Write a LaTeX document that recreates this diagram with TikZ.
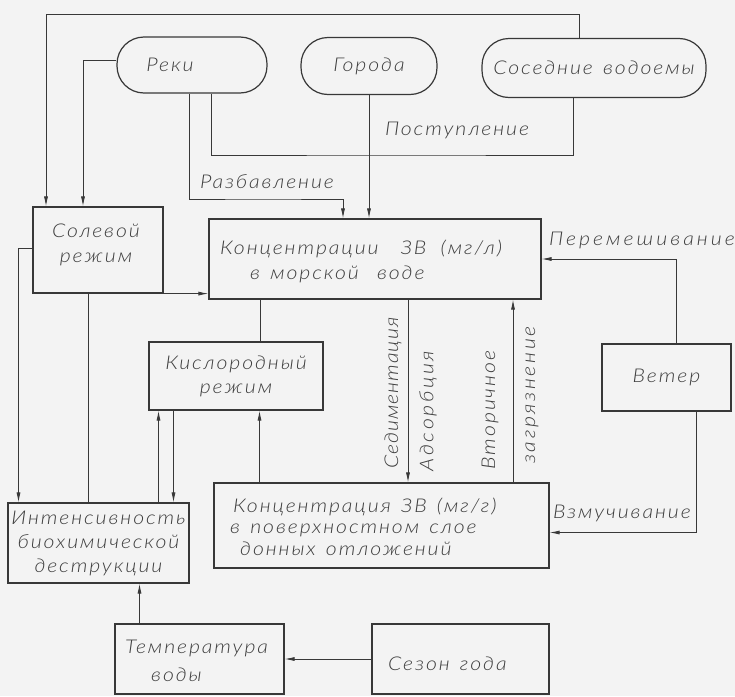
\documentclass[tikz,border=0pt]{standalone}
\usepackage{fontspec}
\setmainfont{Lato Light Italic}[LetterSpace=10,WordSpace=1.4,FakeStretch=1.12]
\usetikzlibrary{arrows.meta,calc}
\definecolor{ink}{HTML}{383838}
\definecolor{txt}{HTML}{3E3E3E}
\definecolor{paper}{HTML}{F3F3F3}
\begin{document}
\begin{tikzpicture}[x=1pt,y=-1pt,
  every node/.style={font=\fontsize{19}{25}\selectfont, text=txt},
  box/.style={draw=ink, line width=1.2pt, inner sep=0pt, align=center},
  pill/.style={box, rounded corners=27pt},
  con/.style={draw=ink, line width=0.8pt},
  arr/.style={con, -{Latex[length=10pt,width=4pt]}},
  lab/.style={inner sep=0pt},
  ltext/.style={inner sep=0pt, anchor=west, align=left}
]
\useasboundingbox (0,0) rectangle (735,696);
\fill[paper] (0,0) rectangle (735,696);

% nodes
\node[pill, minimum width=150pt, minimum height=56pt] (reki) at (192,65) {};
\node[lab] (rekiT) at (170,65) {Реки};
\node[pill, minimum width=136pt, minimum height=57pt] (goroda) at (369,66) {Города};
\node[pill, minimum width=224pt, minimum height=59pt] (sosed) at (594,68) {Соседние водоемы};
\node[box, minimum width=130pt, minimum height=86pt] (solev) at (98,250) {};
\node[lab, align=center] (solevT) at (96,245) {Солевой\\режим};
\node[box, minimum width=332pt, minimum height=80pt] (konc1) at (375,259) {};
\node[ltext] (konc1T) at (220,261) {Концентрации\hspace{12pt} ЗВ\hspace{4pt} (мг/л)\\\hspace*{30pt}в морской\hspace{8pt} воде};
\node[box, minimum width=174pt, minimum height=68pt, font=\fontsize{19}{24}\selectfont] (kisl) at (236,376) {Кислородный\\режим};
\node[box, minimum width=129pt, minimum height=67pt] (veter) at (666.5,377.5) {Ветер};
\node[box, minimum width=335pt, minimum height=85pt] (konc2) at (381.5,525.5) {};
\node[ltext, font=\fontsize{19}{21.5}\selectfont] (konc2T) at (230,526.5) {\hspace*{3pt}Концентрация ЗВ (мг/г)\\в поверхностном слое\\\hspace*{10pt}донных отложений};
\node[box, minimum width=181pt, minimum height=80pt, font=\fontsize{19}{24}\selectfont] (intens) at (98.5,543) {Интенсивность\\биохимической\\деструкции};
\node[box, minimum width=169pt, minimum height=70pt] (temp) at (199.5,659) {};
\node[ltext, font=\fontsize{19}{28}\selectfont] (tempT) at (125,661) {Температура\\\hspace*{26pt}воды};
\node[box, minimum width=177pt, minimum height=70pt] (sezon) at (460.5,659) {};
\node[ltext] (sezonT) at (388,664) {Сезон года};

% labels
\node[lab] (l1) at (267,182) {Разбавление};
\node[lab] (l2) at (457,130) {Поступление};
\node[lab, font=\fontsize{19}{25}\selectfont\addfontfeature{LetterSpace=16}] (l3) at (642,240) {Перемешивание};
\node[lab] (l4) at (622,513) {Взмучивание};
\node[lab, rotate=90, font=\fontsize{19}{25}\selectfont\addfontfeature{LetterSpace=5}] (l5) at (393,393) {Седиментация};
\node[lab, rotate=90, font=\fontsize{19}{25}\selectfont\addfontfeature{LetterSpace=14}] (l6) at (428,411) {Адсорбция};
\node[lab, rotate=90] (l7) at (490,410) {Вторичное};
\node[lab, rotate=90, font=\fontsize{19}{25}\selectfont\addfontfeature{LetterSpace=14}] (l8) at (532,395) {загрязнение};

% connectors
\coordinate (tl) at (46,14);
\draw[arr] ([xshift=-15pt]sosed.north) |- (tl) -- (tl |- solev.north);
\draw[arr] ([yshift=5pt]reki.west) -| ([xshift=-15pt]solev.north);
\coordinate (dil) at (260,199);
\draw[arr] ([xshift=-3pt]reki.south) |- (dil) -| ([xshift=-32pt]konc1.north);
\coordinate (sup) at (400,155);
\draw[con] ([xshift=19pt]reki.south) |- (sup) -| ([xshift=-21pt]sosed.south);
\draw[arr] (goroda.south) -- (goroda.south |- konc1.north);
\draw[arr] ([yshift=2pt]solev.west) -| ([xshift=-80pt]intens.north);
\draw[arr] ([xshift=-10pt]intens.north) |- ([yshift=6pt]konc1.south west);
\coordinate (k8) at ([xshift=-115pt]konc1.south);
\draw[con] (k8) -- (k8 |- kisl.north);
\coordinate (k9) at ([xshift=60pt]intens.north);
\draw[arr] (k9) -- (k9 |- kisl.south);
\coordinate (k10) at ([xshift=75pt]intens.north);
\draw[arr] (k10 |- kisl.south) -- (k10);
\coordinate (k11) at ([xshift=-122pt]konc2.north);
\draw[arr] (k11) -- (k11 |- kisl.south);
\coordinate (k12) at ([xshift=33pt]konc1.south);
\draw[arr] (k12) -- (k12 |- konc2.north);
\coordinate (k13) at ([xshift=138pt]konc1.south);
\draw[arr] (k13 |- konc2.north) -- (k13);
\draw[arr] ([xshift=10pt]veter.north) |- (konc1.east);
\draw[arr] ([xshift=30pt]veter.south) |- ([yshift=-7pt]konc2.east);
\coordinate (k16) at ([xshift=-60pt]temp.north);
\draw[arr] (k16) -- (k16 |- intens.south);
\draw[arr] (sezon.west) -- (temp.east);
\end{tikzpicture}
\end{document}
